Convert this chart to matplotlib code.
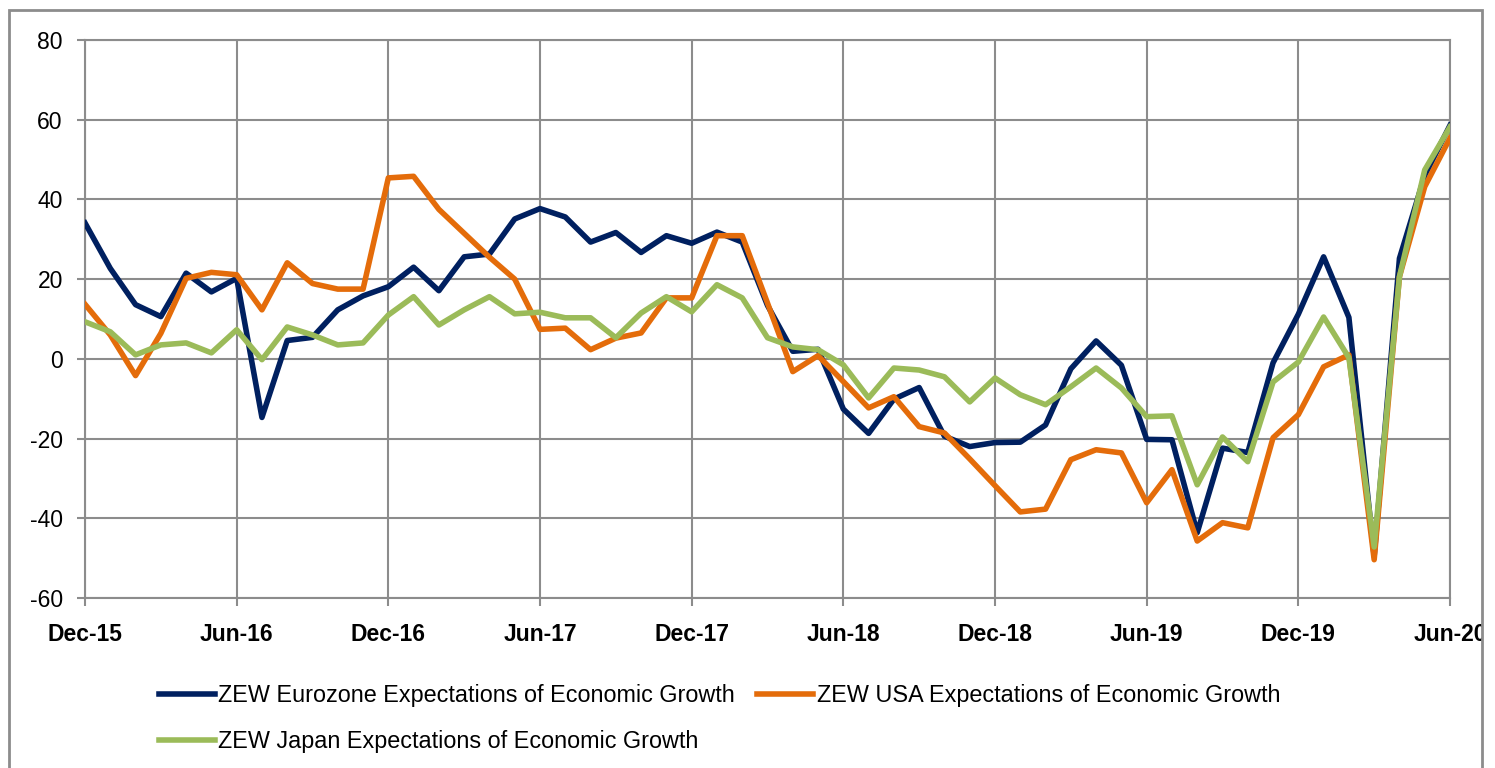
import numpy as np
import pandas as pd
import matplotlib
matplotlib.use("Agg")
import matplotlib.pyplot as plt
from matplotlib.patches import Rectangle
from matplotlib.transforms import Bbox, TransformedBbox

plt.rcParams['font.family'] = ['Liberation Sans', 'DejaVu Sans']
plt.rcParams['axes.unicode_minus'] = False

# monthly, Dec-15 .. Jun-20
months = pd.date_range("2015-12-01", "2020-06-01", freq="MS")

eurozone = [34.1, 22.7, 13.6, 10.6, 21.5, 16.8, 20.2, -14.7, 4.6, 5.4, 12.3, 15.8,
            18.1, 23.0, 17.1, 25.6, 26.3, 35.1, 37.7, 35.6, 29.3, 31.7, 26.7, 30.9,
            29.0, 31.8, 29.3, 13.4, 1.9, 2.4, -12.6, -18.7, -10.1, -7.2, -19.4, -22.0,
            -21.0, -20.9, -16.6, -2.5, 4.5, -1.6, -20.2, -20.3, -43.6, -22.4, -23.5, -1.0,
            11.2, 25.6, 10.4, -49.5, 25.2, 46.0, 58.6]

usa = [13.7, 6.0, -4.2, 6.4, 20.2, 21.7, 21.1, 12.3, 24.1, 18.9, 17.5, 17.5,
       45.4, 45.8, 37.5, 31.5, 25.5, 20.0, 7.4, 7.7, 2.3, 5.2, 6.5, 15.3,
       15.3, 30.9, 30.9, 14.0, -3.2, 0.8, -5.7, -12.3, -9.5, -17.0, -18.6, -25.1,
       -31.8, -38.4, -37.7, -25.3, -22.8, -23.6, -36.1, -27.8, -45.7, -41.1, -42.4, -19.8,
       -14.0, -2.0, 1.0, -50.4, 20.6, 43.2, 55.4]

japan = [9.3, 6.8, 1.0, 3.5, 4.0, 1.5, 7.3, -0.2, 8.0, 6.0, 3.5, 4.0,
         11.0, 15.6, 8.5, 12.3, 15.6, 11.3, 11.7, 10.3, 10.3, 5.3, 11.5, 15.6,
         11.8, 18.6, 15.3, 5.3, 3.0, 2.3, -1.5, -9.8, -2.3, -2.8, -4.5, -10.8,
         -4.8, -9.0, -11.5, -7.0, -2.3, -7.3, -14.5, -14.3, -31.6, -19.6, -25.8, -5.8,
         -0.8, 10.5, 0.3, -47.2, 20.6, 47.4, 58.2]

labels = ["ZEW Eurozone Expectations of Economic Growth",
          "ZEW USA Expectations of Economic Growth",
          "ZEW Japan Expectations of Economic Growth"]
colors = ["#002060", "#E46C0A", "#9BBB59"]

x = np.arange(len(months))
tick_idx = x[::6]
tick_labels = [months[i].strftime("%b-%y") for i in tick_idx]

fig = plt.figure(figsize=(14.95, 7.68), dpi=100)
ax = fig.add_axes([85 / 1495, 1 - 598 / 768, (1450 - 85) / 1495, (598 - 40) / 768])

grid_c = "#8c8c8c"
lines = []
for ser, lab, c in zip([eurozone, usa, japan], labels, colors):
    ln, = ax.plot(x, ser, color=c, lw=4, label=lab, zorder=3)
    lines.append(ln)

ax.set_xlim(0, len(months) - 1)
ax.set_ylim(-60, 80)
ax.set_yticks(np.arange(-60, 81, 20))
ax.set_xticks(tick_idx)
ax.set_xticklabels(tick_labels, fontsize=16.5, fontweight='bold')
ax.tick_params(axis='y', labelsize=16.5, length=6, color=grid_c, width=1.5, pad=10)
ax.tick_params(axis='x', length=6, color=grid_c, width=1.5, pad=12)
ax.grid(True, color=grid_c, lw=1.5)
ax.set_axisbelow(True)
for s in ax.spines.values():
    s.set_color(grid_c)
    s.set_linewidth(1.5)

# chart frame clips the last date label, as in the original
clip = TransformedBbox(Bbox([[9 / 1495, 0], [1482 / 1495, 1]]), fig.transFigure)
for t in ax.get_xticklabels():
    t.set_clip_box(clip)
    t.set_clip_on(True)

# legend fills column-wise: order so rows read Eurozone, USA / Japan
leg_handles = [lines[0], lines[2], lines[1]]
fig.legend(handles=leg_handles, loc='upper left', bbox_to_anchor=(138 / 1495, 1 - 663 / 768),
           ncol=2, frameon=False, fontsize=16.8, handlelength=2.4, handletextpad=0.15,
           columnspacing=0.95, labelspacing=1.0)

fig.patches.append(Rectangle((9 / 1495, -0.05), (1482 - 9) / 1495, 1.05 - 10 / 768,
                             transform=fig.transFigure, fill=False,
                             edgecolor=grid_c, lw=2))

fig.savefig("out.png", dpi=100)
